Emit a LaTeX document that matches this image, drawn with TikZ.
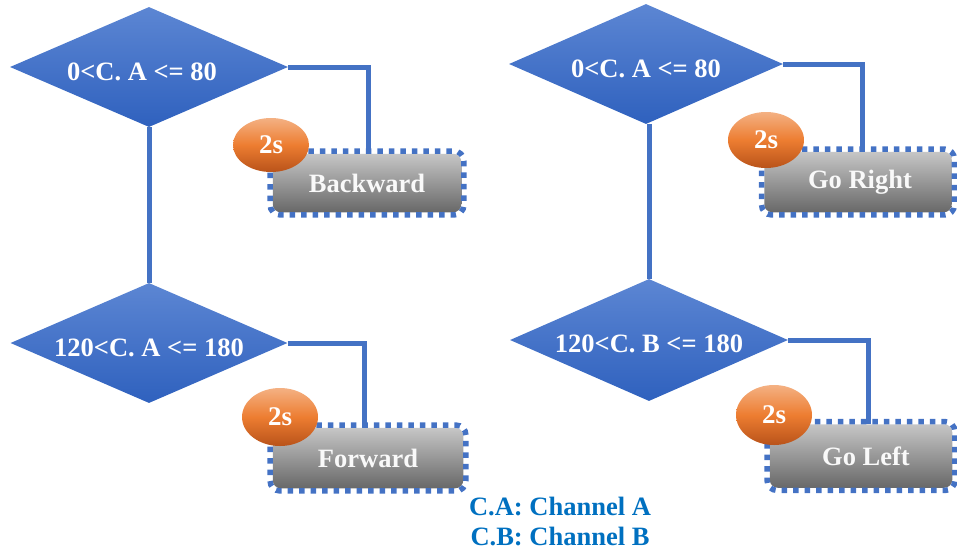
\documentclass[tikz,border=0pt]{standalone}
\usepackage{fontspec}
\setmainfont{Liberation Serif}
\usetikzlibrary{shapes.geometric,backgrounds}

\definecolor{cblue}{HTML}{4472C4}
\definecolor{dtop}{HTML}{5C86D3}
\definecolor{dbot}{HTML}{2F61BE}
\definecolor{gtop}{HTML}{C6C6C6}
\definecolor{gbot}{HTML}{686868}
\definecolor{otop}{HTML}{F4B183}
\definecolor{omid}{HTML}{ED7D31}
\definecolor{obot}{HTML}{B9531A}
\definecolor{legendblue}{HTML}{0070C0}

\newcommand\labfont{\fontsize{26.5}{31}\selectfont\bfseries}
\newcommand\tmrfont{\fontsize{27}{32}\selectfont\bfseries}

\tikzset{
  decision/.style={diamond, aspect=2.3, inner sep=0pt, draw=none,
    top color=dtop, bottom color=dbot},
  declabel/.style={text=white, font=\labfont, inner sep=0pt},
  action/.style={rectangle, rounded corners=8pt, draw=none,
    top color=gtop, bottom color=gbot, inner sep=0pt},
  actlabel/.style={text=white!95!gray, font=\labfont, inner sep=0pt},
  actborder/.style={draw=cblue, line width=5.5pt, rounded corners=10pt,
    dash pattern=on 5.5pt off 6pt},
  timer/.style={ellipse, inner sep=0pt, draw=none,
    top color=otop, bottom color=obot, middle color=omid,
    text=white, font=\tmrfont},
  link/.style={draw=cblue, line width=5pt},
  legend/.style={text=legendblue, font=\labfont, inner sep=0pt}
}

\begin{document}
\begin{tikzpicture}[x=1pt, y=-1pt]
\useasboundingbox (0,0) rectangle (957,552);

% decision diamonds
\node[decision, minimum width=278, minimum height=120] (d1) at (149,67) {};
\node[decision, minimum width=277, minimum height=120] (d2) at (149,343) {};
\node[decision, minimum width=274, minimum height=120] (d3) at (646,64) {};
\node[decision, minimum width=278, minimum height=122] (d4) at (649,340) {};

\node[declabel] (t1) at ([xshift=-7pt,yshift=-5pt]d1.center) {0<C. A <= 80};
\node[declabel] (t2) at ([yshift=-5pt]d2.center) {120<C. A <= 180};
\node[declabel] (t3) at ([yshift=-5pt]d3.center) {0<C. A <= 80};
\node[declabel] (t4) at ([yshift=-4pt]d4.center) {120<C. B <= 180};

% action boxes: gradient fill, square-dotted outline just outside it
\node[action, minimum width=188.5, minimum height=58.5] (b1) at (367,183) {};
\node[action, minimum width=190.5, minimum height=60.5] (b2) at (368,458) {};
\node[action, minimum width=187.5, minimum height=60.5] (b3) at (858,182) {};
\node[action, minimum width=182.5, minimum height=63.5] (b4) at (861,456) {};
\foreach \b in {b1,b2,b3,b4}
  \draw[actborder] ([xshift=-2.5pt,yshift=2.5pt]\b.north west)
    rectangle ([xshift=2.5pt,yshift=-2.5pt]\b.south east);

\node[actlabel] (a1) at (b1.center) {Backward};
\node[actlabel] (a2) at (b2.center) {Forward};
\node[actlabel] (a3) at ([xshift=2pt]b3.center) {Go Right};
\node[actlabel] (a4) at ([xshift=5pt]b4.center) {Go Left};

% delay badges
\node[timer, minimum width=76, minimum height=54] (e1) at (271,145) {2s};
\node[timer, minimum width=76, minimum height=58] (e2) at (280,417) {2s};
\node[timer, minimum width=76, minimum height=56] (e3) at (766,140) {2s};
\node[timer, minimum width=76, minimum height=60] (e4) at (774,415) {2s};

% connectors
\begin{scope}[on background layer]
  \draw[link] (d1.south) -- (d2.north);
  \draw[link] ([xshift=3pt]d3.south) -- (d4.north);
  \draw[link] (d1.east) -| ([xshift=1pt]b1.north);
  \draw[link] (d2.east) -| ([xshift=-4pt]b2.north);
  \draw[link] (d3.east) -| ([xshift=4pt]b3.north);
  \draw[link] (d4.east) -| ([xshift=7pt]b4.north);
\end{scope}

% legend
\node[legend] (l1) at (560,506) {C.A: Channel A};
\node[legend] (l2) at (560,536) {C.B: Channel B};
\end{tikzpicture}
\end{document}
